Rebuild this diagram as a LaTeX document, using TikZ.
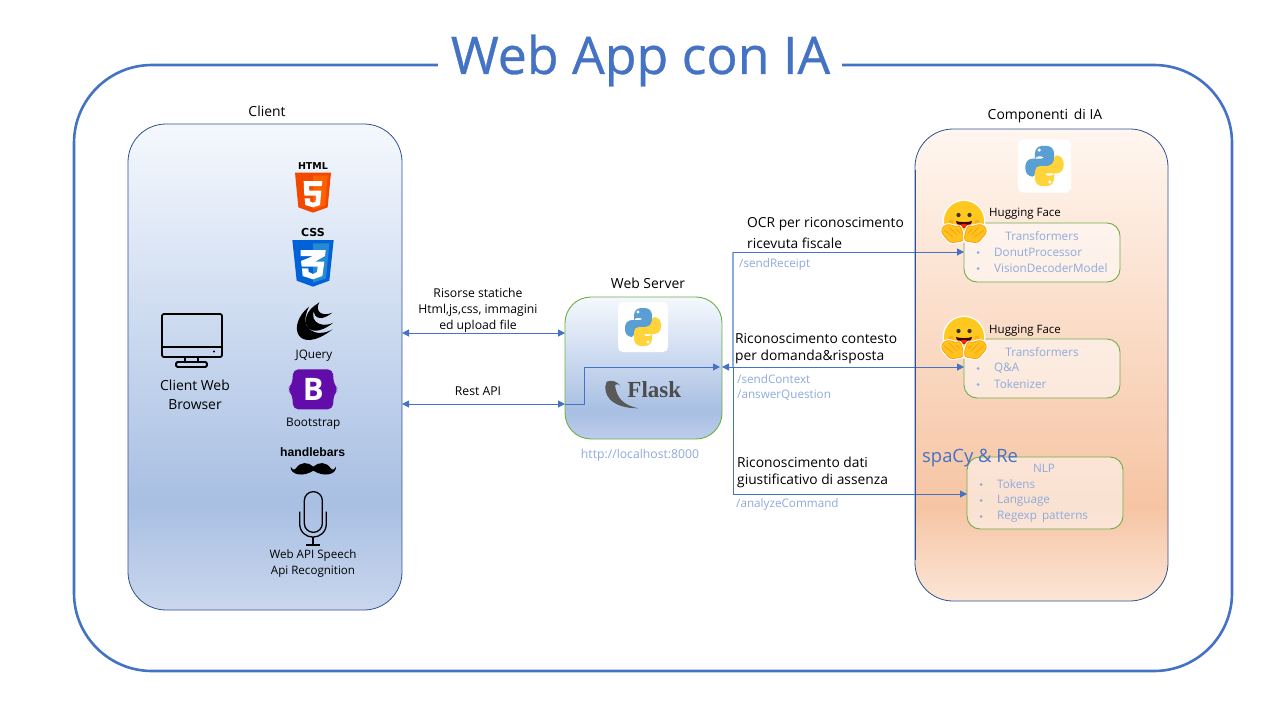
\documentclass[tikz,border=0pt]{standalone}
\usepackage{fontspec}
\setmainfont{Open Sans}
\newfontfamily\serifbold{Liberation Serif}
\newfontfamily\helv{Liberation Sans}
\newfontfamily\dejab{DejaVu Sans}
\newfontfamily\ttlfont[FakeBold=0.6]{Open Sans}
\usetikzlibrary{arrows.meta}
\definecolor{acc}{HTML}{4472C4}
\definecolor{edge}{HTML}{2F528F}
\definecolor{grn}{HTML}{70AD47}
\definecolor{lite}{HTML}{8FAADC}
\definecolor{pyb}{HTML}{5A9FD4}
\definecolor{pyy}{HTML}{FFD43B}
\definecolor{hfy}{HTML}{FFC81E}
\definecolor{hfo}{HTML}{FFC21E}
\definecolor{hfd}{HTML}{FF9D0B}
\pgfdeclareverticalshading{clientshade}{100bp}{
 rgb(0bp)=(0.79,0.84,0.93); rgb(25bp)=(0.79,0.84,0.93); rgb(36bp)=(0.66,0.75,0.89); rgb(75bp)=(0.96,0.975,0.995); rgb(100bp)=(0.96,0.975,0.995)}
\pgfdeclareverticalshading{aishade}{100bp}{
 rgb(0bp)=(0.985,0.90,0.84); rgb(25bp)=(0.985,0.90,0.84); rgb(35bp)=(0.965,0.77,0.64); rgb(75bp)=(1,0.965,0.94); rgb(100bp)=(1,0.965,0.94)}
\pgfdeclareverticalshading{servershade}{100bp}{
 rgb(0bp)=(0.74,0.80,0.92); rgb(25bp)=(0.74,0.80,0.92); rgb(35bp)=(0.66,0.75,0.89); rgb(75bp)=(0.96,0.975,0.995); rgb(100bp)=(0.96,0.975,0.995)}
\tikzset{
 x=1pt,y=-1pt,
 conn/.style={draw=acc,line width=1pt,{Triangle[length=7pt,width=7pt]}-{Triangle[length=7pt,width=7pt]}},
 connr/.style={draw=acc,line width=1pt,-{Triangle[length=7pt,width=7pt]}},
 panel/.style={draw=edge,line width=0.8pt,inner sep=0,outer sep=0,minimum width=#1},
 subbox/.style={draw=grn,line width=0.9pt,fill=white,fill opacity=.5,draw opacity=1,rounded corners=13pt,inner sep=0,outer sep=0,minimum width=156pt},
 lbl/.style={font=\fontsize{13.9}{15}\selectfont,inner sep=0,text=black},
 small/.style={font=\fontsize{12.2}{16}\selectfont,inner sep=0,text=black,align=center},
 route/.style={font=\fontsize{11.7}{13}\selectfont,inner sep=0,text=lite,anchor=west},
 item/.style={font=\fontsize{11.7}{13}\selectfont,inner sep=0,text=lite,anchor=west},
 cent/.style={font=\fontsize{11.7}{13}\selectfont,inner sep=0,text=lite},
 note/.style={font=\fontsize{13.8}{15}\selectfont,inner sep=0,text=black,anchor=west},
 hf/.style={font=\fontsize{11.5}{13}\selectfont,inner sep=0,text=black,anchor=west},
 bul/.style={circle,fill=lite,inner sep=0,minimum size=3pt},
 pylogo/.pic={
  \fill[white,rounded corners=5pt] (-25,-25) rectangle (25,25);
  \fill[pyb,rounded corners=3pt] (-9,-4) -- (-9,-15) -- (-5,-19) -- (5,-19) -- (9,-15) -- (9,-3) -- (6,0) -- (-5,0) -- (-9,4) -- (-9,10) -- (-14,10) -- (-18,6) -- (-18,-3) -- (-14,-7) -- (0,-7) -- (0,-9) -- (-9,-9) -- cycle;
  \fill[pyy,rounded corners=3pt] (9,4) -- (9,15) -- (5,19) -- (-5,19) -- (-9,15) -- (-9,3) -- (-6,0) -- (5,0) -- (9,-4) -- (9,-10) -- (14,-10) -- (18,-6) -- (18,3) -- (14,7) -- (0,7) -- (0,9) -- (9,9) -- cycle;
  \fill[white] (-5,-15) circle (1.7) (5,15) circle (1.7);
 },
 hand/.pic={
  \fill[white,draw=white,line width=3pt,rounded corners=3pt,line join=round] (-0.5,19) -- (-14,21) -- (-23,10) -- (-21,4) -- (-14,2) -- (-9,5) -- (-4,3) -- (-0.5,13) -- cycle;
  \fill[hfo,draw=hfd,line width=.7pt,rounded corners=3pt] (-0.5,19) -- (-14,21) -- (-23,10) -- (-21,4) -- (-14,2) -- (-9,5) -- (-4,3) -- (-0.5,13) -- cycle;
  \draw[hfd,line width=.7pt] (-20,8) -- (-11,15) (-15,5) -- (-7,13) (-8,7) -- (-4,11);
 },
 hface/.pic={
  \fill[white] (0,-1) circle (21.5);
  \fill[hfy] (0,-1) circle (20);
  \fill[hfd!60!hfy] (-13,0) circle (2.4) (13,0) circle (2.4);
  \fill[black!80] (-5.5,-7) circle (2.1) (5.5,-7) circle (2.1);
  \fill[black!75!red] (-8,-1) .. controls (-4,0.5) and (4,0.5) .. (8,-1) .. controls (7,8) and (-7,8) .. (-8,-1) -- cycle;
  \fill[red!75!orange] (-4,3) .. controls (-2,1.5) and (2,1.5) .. (4,3) .. controls (2,6.5) and (-2,6.5) .. (-4,3) -- cycle;
  \pic {hand};
  \pic[xscale=-1] {hand};
 }
}
\begin{document}
\begin{tikzpicture}
\useasboundingbox (0,0) rectangle (1280,720);
\fill[white] (0,0) rectangle (1280,720);

% outer frame and title
\node[draw=acc,line width=2.6pt,rounded corners=78pt,minimum width=1158pt,minimum height=606pt,inner sep=0] (frame) at (653,368) {};
\node[fill=white,minimum width=404pt,minimum height=40pt,inner sep=0] (titlebg) at (640,60) {};
\node[inner sep=0,text=acc,font=\ttlfont\fontsize{51.8}{56}\selectfont] (title) at (640.5,60.5) {Web App con IA};

% panels
\node[panel=274pt,minimum height=486pt,rounded corners=38pt,shading=clientshade] (client) at (265,367) {};
\node[panel=253pt,minimum height=472pt,rounded corners=38pt,shading=aishade] (ai) at (1041.5,365) {};
\node[draw=grn,line width=0.9pt,inner sep=0,outer sep=0,minimum width=157pt,minimum height=142pt,rounded corners=26pt,shading=servershade] (server) at (643.5,368) {};

% sub boxes
\node[subbox,minimum height=59pt] (bxa) at (1042,252.5) {};
\node[subbox,minimum height=59pt] (bxb) at (1042,368.5) {};
\node[subbox,minimum height=72pt] (bxc) at (1045,493) {};

% headings
\node[lbl] (hclient) at (267,111) {Client};
\node[lbl] (hai) at (1045,115.5) {Componenti\, di IA};
\node[lbl] (hserver) at (648,283) {Web Server};
\node[lbl,align=center,font=\fontsize{13.9}{19}\selectfont] (browser) at (195,394.5) {Client Web\\Browser};

% connectors
\draw[conn] (client.east |- 0,333) -- (server.west |- 0,333);
\draw[conn] (client.east |- 0,404) -- (server.west |- 0,404);
\draw[connr] (server.west |- 0,404) -- (584,404) -- (584,367) -- (720,367);
\coordinate (hub) at (733,367);
\draw[draw=lite,line width=1.8pt] (733,252) -- (hub);
\draw[draw=acc,line width=1pt] (hub) -- (733,494);
\draw[connr] (733,252) -- (bxa.west |- 0,252);
\draw[conn] (server.east |- 0,367) -- (bxb.west |- 0,367);
\draw[connr] (733,494) -- (bxc.west |- 0,494);
\draw[edge,line width=.8pt] (ai.west |- 0,170) -- (ai.west |- 0,560);

% connector labels
\node[small] (statics) at (478,310) {Risorse statiche\\Html,js,css, immagini\\ed upload file};
\node[small] (rest) at (478,391) {Rest API};
\node[route,anchor=center,font=\fontsize{12.2}{13}\selectfont] (local) at (640,455) {http://localhost:8000};
\node[note] (ocr1) at (747,224.5) {OCR per riconoscimento};
\node[note] (ocr2) at (747,243) {ricevuta fiscale};
\node[route] (r1) at (739,264) {/sendReceipt};
\node[note] (ctx1) at (735,338.5) {Riconoscimento contesto};
\node[note] (ctx2) at (735,357) {per domanda\&risposta};
\node[route] (r2) at (737,379) {/sendContext};
\node[route] (r3) at (737,395) {/answerQuestion};
\node[note] (dat1) at (737,462.5) {Riconoscimento dati};
\node[note] (dat2) at (737,481) {giustificativo di assenza};
\node[route] (r4) at (736,504) {/analyzeCommand};
\node[inner sep=0,anchor=west,text=acc,font=\fontsize{18.4}{20}\selectfont] (spacy) at (922,458.5) {spaCy \& Re};

% list texts
\node[hf] (hf1) at (989,213.5) {Hugging Face};
\node[cent] (t1) at (1042,236.5) {Transformers};
\node[bul] at (978,252.5) {}; \node[item] (t2) at (994,252.5) {DonutProcessor};
\node[bul] at (978,268.5) {}; \node[item] (t3) at (994,268.5) {VisionDecoderModel};
\node[hf] (hf2) at (989,330.5) {Hugging Face};
\node[cent] (u1) at (1042,352.5) {Transformers};
\node[bul] at (978,368.5) {}; \node[item] (u2) at (994,368.5) {Q\&A};
\node[bul] at (978,384.5) {}; \node[item] (u3) at (994,384.5) {Tokenizer};
\node[cent] (v1) at (1044,468.5) {NLP};
\node[bul] at (981,484.5) {}; \node[item] (v2) at (997,484.5) {Tokens};
\node[bul] at (981,500.5) {}; \node[item] (v3) at (997,500.5) {Language};
\node[bul] at (981,516.5) {}; \node[item] (v4) at (997,516.5) {Regexp\, patterns};

% logos
\pic at (643,327) {pylogo};
\pic[scale=1.06] at (1044.5,166) {pylogo};
\pic at (964,222) {hface};
\pic at (964,338) {hface};

% monitor
\draw[black,line width=1.8pt,rounded corners=2pt] (162,314) rectangle (222,357);
\draw[black,line width=1.8pt] (162,347) -- (222,347) (185,357) -- (185,362) (198,357) -- (198,362);
\draw[black,line width=1.8pt,rounded corners=1.5pt] (176,362) rectangle (207,367);
\fill[black] (214,351.5) circle (1.2);

% html/css/jquery icons
\begin{scope}[shift={(260,150)},scale=1/3]
 \node[inner sep=0,font=\dejab\bfseries\fontsize{9.5}{10}\selectfont] (h5) at (159,49) {HTML};
 \fill[orange!60!red!95!black] (105,68) -- (213,68) -- (203,172) -- (159,188) -- (115,172) -- cycle;
 \fill[orange!75!red] (159,77) -- (203,77) -- (195,166) -- (159,178) -- cycle;
 \fill[white] (131,93) -- (187,93) -- (185,108) -- (147,108) -- (148,122) -- (184,122) -- (180,165) -- (159,172) -- (136,165) -- (134,145) -- (150,145) -- (151,155) -- (159,158) -- (167,155) -- (168,137) -- (133,137) -- cycle;
 \node[inner sep=0,font=\dejab\bfseries\fontsize{11}{10}\selectfont] (c3) at (159,248) {CSS};
 \fill[blue!55!cyan!85!black] (97,270) -- (221,270) -- (208,392) -- (159,410) -- (110,392) -- cycle;
 \fill[cyan!65!blue!90] (159,280) -- (208,280) -- (198,385) -- (159,398) -- cycle;
 \fill[white] (122,300) -- (197,300) -- (195,318) -- (165,335) -- (193,335) -- (187,378) -- (159,388) -- (128,378) -- (126,355) -- (145,355) -- (146,366) -- (159,372) -- (171,366) -- (173,350) -- (125,350) -- (123,333) -- (160,318) -- (122,318) -- cycle;
 \fill[black] (147,470) .. controls (78,525) and (110,620) .. (218,538) .. controls (170,565) and (112,540) .. (147,470) -- cycle;
 \fill[black] (175,460) .. controls (108,495) and (135,585) .. (220,518) .. controls (180,538) and (135,510) .. (175,460) -- cycle;
 \fill[black] (178,456) .. controls (145,480) and (165,530) .. (217,488) .. controls (190,500) and (162,488) .. (178,456) -- cycle;
 \node[inner sep=0,font=\fontsize{11.7}{13}\selectfont] (jq) at (162,617) {JQuery};
\end{scope}

% bootstrap, handlebars, microphone
\begin{scope}[shift={(260,360)},scale=1/3]
 \fill[violet!70!blue!95!white,rounded corners=5pt] (100,28) -- (218,28) -- (222,75) -- (237,88) -- (222,101) -- (218,148) -- (100,148) -- (96,101) -- (80,88) -- (96,75) -- cycle;
 \node[inner sep=0,text=white,font=\bfseries\fontsize{31}{31}\selectfont] (bs) at (160,88) {B};
 \node[inner sep=0,font=\fontsize{11.8}{13}\selectfont] (bst) at (160,190) {Bootstrap};
 \node[inner sep=0,font=\helv\bfseries\fontsize{12.2}{13}\selectfont] (hb) at (158,275) {handlebars};
 \fill[black] (160,320) .. controls (175,305) and (200,305) .. (212,325) .. controls (218,332) and (226,328) .. (228,320) .. controls (230,345) and (190,352) .. (160,332) .. controls (130,352) and (90,345) .. (92,320) .. controls (94,328) and (102,332) .. (108,325) .. controls (120,305) and (145,305) .. (160,320) -- cycle;
 \draw[black,line width=1.3pt,rounded corners=8.9pt] (133,395) rectangle (187,517);
 \draw[black,line width=1.3pt] (119,455) -- (119,490) .. controls (119,545) and (199,545) .. (199,490) -- (199,455);
 \draw[black,line width=1.3pt] (159,530) -- (159,555) (138,555) -- (180,555);
 \node[inner sep=0,font=\fontsize{11.6}{15.5}\selectfont,align=center] (speech) at (159,611) {Web API Speech\\Api Recognition};
\end{scope}

% flask
\begin{scope}[shift={(560,270)},scale=1/3]
 \fill[black!65] (140,335) .. controls (125,370) and (150,415) .. (235,415) .. controls (190,405) and (170,385) .. (165,345) .. controls (175,340) and (178,345) .. (182,350) .. controls (175,335) and (155,328) .. (140,335) -- cycle;
 \node[inner sep=0,text=black!70,font=\serifbold\bfseries\fontsize{23}{25}\selectfont] (flask) at (283,358) {Flask};
\end{scope}
\end{tikzpicture}
\end{document}
